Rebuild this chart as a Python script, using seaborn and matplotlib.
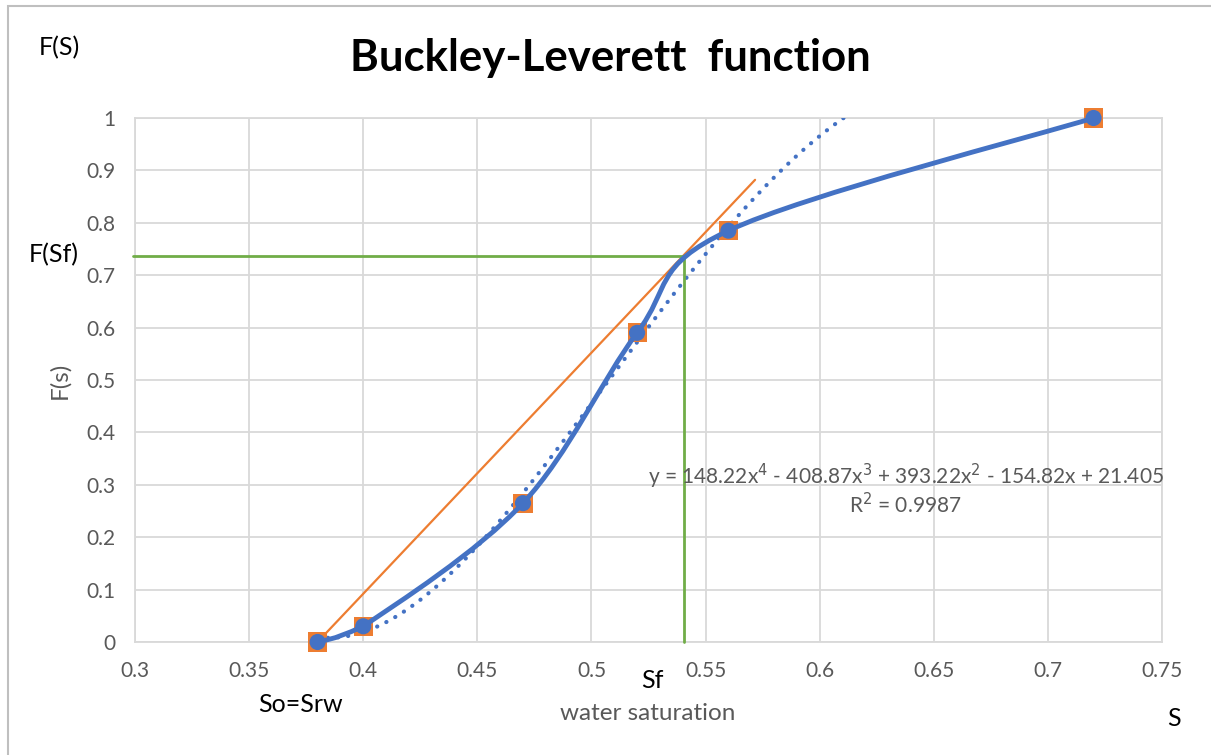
import numpy as np
import pandas as pd
import matplotlib
matplotlib.use("Agg")
import matplotlib.pyplot as plt
from matplotlib.path import Path
from matplotlib.patches import PathPatch, Rectangle
import seaborn as sns

# ---- data ----
saturation = [0.38, 0.40, 0.47, 0.52, 0.56, 0.72]
frac_flow = [0.0, 0.03, 0.265, 0.59, 0.785, 1.0]
trend_coefs = [148.22, -408.87, 393.22, -154.82, 21.405]
tangent_x = [0.38, 0.5717]
tangent_y = [0.0, 0.882]
sf_value = 0.5407
fsf_value = 0.737
x_ticks = [0.3, 0.35, 0.4, 0.45, 0.5, 0.55, 0.6, 0.65, 0.7, 0.75]
y_ticks = [0, 0.1, 0.2, 0.3, 0.4, 0.5, 0.6, 0.7, 0.8, 0.9, 1]
x_tick_labels = ["0.3", "0.35", "0.4", "0.45", "0.5", "0.55", "0.6", "0.65", "0.7", "0.75"]
y_tick_labels = ["0", "0.1", "0.2", "0.3", "0.4", "0.5", "0.6", "0.7", "0.8", "0.9", "1"]

BLUE = "#4472C4"
ORANGE = "#ED7D31"
GREEN = "#70AD47"
GRID = "#D9D9D9"
GREY_TXT = "#595959"

sns.set_style("white")
plt.rcParams["font.family"] = ["Lato", "DejaVu Sans"]

W, H = 1211, 755
fig = plt.figure(figsize=(W / 100, H / 100), dpi=100)
ax = fig.add_axes([135 / W, 1 - 642 / H, (1162 - 135) / W, (642 - 118) / H])

df = pd.DataFrame({"S": saturation, "F": frac_flow})

# trendline (polynomial shown on chart)
xt = np.linspace(min(saturation), max(saturation), 400)
yt = np.polyval(trend_coefs, xt)
sns.lineplot(x=xt, y=yt, ax=ax, color=BLUE, lw=3.0, linestyle=(0, (0.05, 2.4)), zorder=3)
for l in ax.lines:
    l.set_dash_capstyle("round")

# tangent line
sns.lineplot(x=tangent_x, y=tangent_y, ax=ax, color=ORANGE, lw=1.6, zorder=4)

# green Sf construction lines
ax.plot([0.299, sf_value], [fsf_value, fsf_value], color=GREEN, lw=2.0, zorder=4, clip_on=False)
ax.plot([sf_value, sf_value], [fsf_value, 0.0], color=GREEN, lw=2.0, zorder=4, clip_on=False)

# orange squares
sns.scatterplot(data=df, x="S", y="F", ax=ax, marker="s", s=190, color=ORANGE,
                edgecolor="none", zorder=5)

# smoothed blue line (Excel style bezier smoothing, monotone-clamped)
xs = np.array(saturation); ys = np.array(frac_flow)
n = len(xs)
verts = [(xs[0], ys[0])]
codes = [Path.MOVETO]
for i in range(n - 1):
    p0 = np.array([xs[max(i - 1, 0)], ys[max(i - 1, 0)]])
    p1 = np.array([xs[i], ys[i]])
    p2 = np.array([xs[i + 1], ys[i + 1]])
    p3 = np.array([xs[min(i + 2, n - 1)], ys[min(i + 2, n - 1)]])
    c1 = p1 + (p2 - p0) / 6.0
    c2 = p2 - (p3 - p1) / 6.0
    lo, hi = min(p1[1], p2[1]), max(p1[1], p2[1])
    c1[1] = np.clip(c1[1], lo, hi)
    c2[1] = np.clip(c2[1], lo, hi)
    verts += [tuple(c1), tuple(c2), tuple(p2)]
    codes += [Path.CURVE4] * 3
patch = PathPatch(Path(verts, codes), facecolor="none", edgecolor=BLUE, lw=3.5,
                  capstyle="round", joinstyle="round", zorder=6, clip_on=False)
ax.add_patch(patch)

sns.scatterplot(data=df, x="S", y="F", ax=ax, marker="o", s=135, color=BLUE,
                edgecolor="none", zorder=7)
for c in ax.collections:
    c.set_clip_on(False)

ax.set_xlim(0.3, 0.75)
ax.set_ylim(0, 1)
ax.set_xticks(x_ticks)
ax.set_xticklabels(x_tick_labels)
ax.set_yticks(y_ticks)
ax.set_yticklabels(y_tick_labels)
ax.grid(True, color=GRID, lw=1.3)
ax.set_axisbelow(True)
for sp in ax.spines.values():
    sp.set_color(GRID)
    sp.set_linewidth(1.3)
ax.tick_params(axis="both", length=0, pad=14, labelsize=15, labelcolor=GREY_TXT)
ax.set_xlabel("")
ax.set_ylabel("")

def px(x, y):
    return x / W, 1 - y / H

# titles and annotations
fig.text(*px(610, 58), "Buckley-Leverett  function", ha="center", va="center",
         fontsize=31.5, fontweight="bold", color="black")
fig.text(*px(648, 714), "water saturation", ha="center", va="center", fontsize=17.5, color=GREY_TXT)
fig.text(*px(60, 380), "F(s)", ha="center", va="center", fontsize=17.5, color=GREY_TXT, rotation=90)
fig.text(*px(59, 48), "F(S)", ha="center", va="center", fontsize=18, color="black")
fig.text(*px(54, 255), "F(Sf)", ha="center", va="center", fontsize=18, color="black")
fig.text(*px(652, 680), "Sf", ha="center", va="center", fontsize=18, color="black")
fig.text(*px(300, 705), "So=Srw", ha="center", va="center", fontsize=18, color="black")
fig.text(*px(1174, 718), "S", ha="center", va="center", fontsize=18, color="black")
fig.text(*px(906, 476), "y = 148.22x$^4$ - 408.87x$^3$ + 393.22x$^2$ - 154.82x + 21.405",
         ha="center", va="center", fontsize=15, color=GREY_TXT)
fig.text(*px(905, 505), "R$^2$ = 0.9987", ha="center", va="center", fontsize=15, color=GREY_TXT)

# chart border
fig.patches.append(Rectangle((8 / W, -0.05), 1.2, 1 - 6 / H + 0.05, transform=fig.transFigure,
                             fill=False, edgecolor="#BFBFBF", lw=1.5))

fig.savefig("out.png", dpi=100)
